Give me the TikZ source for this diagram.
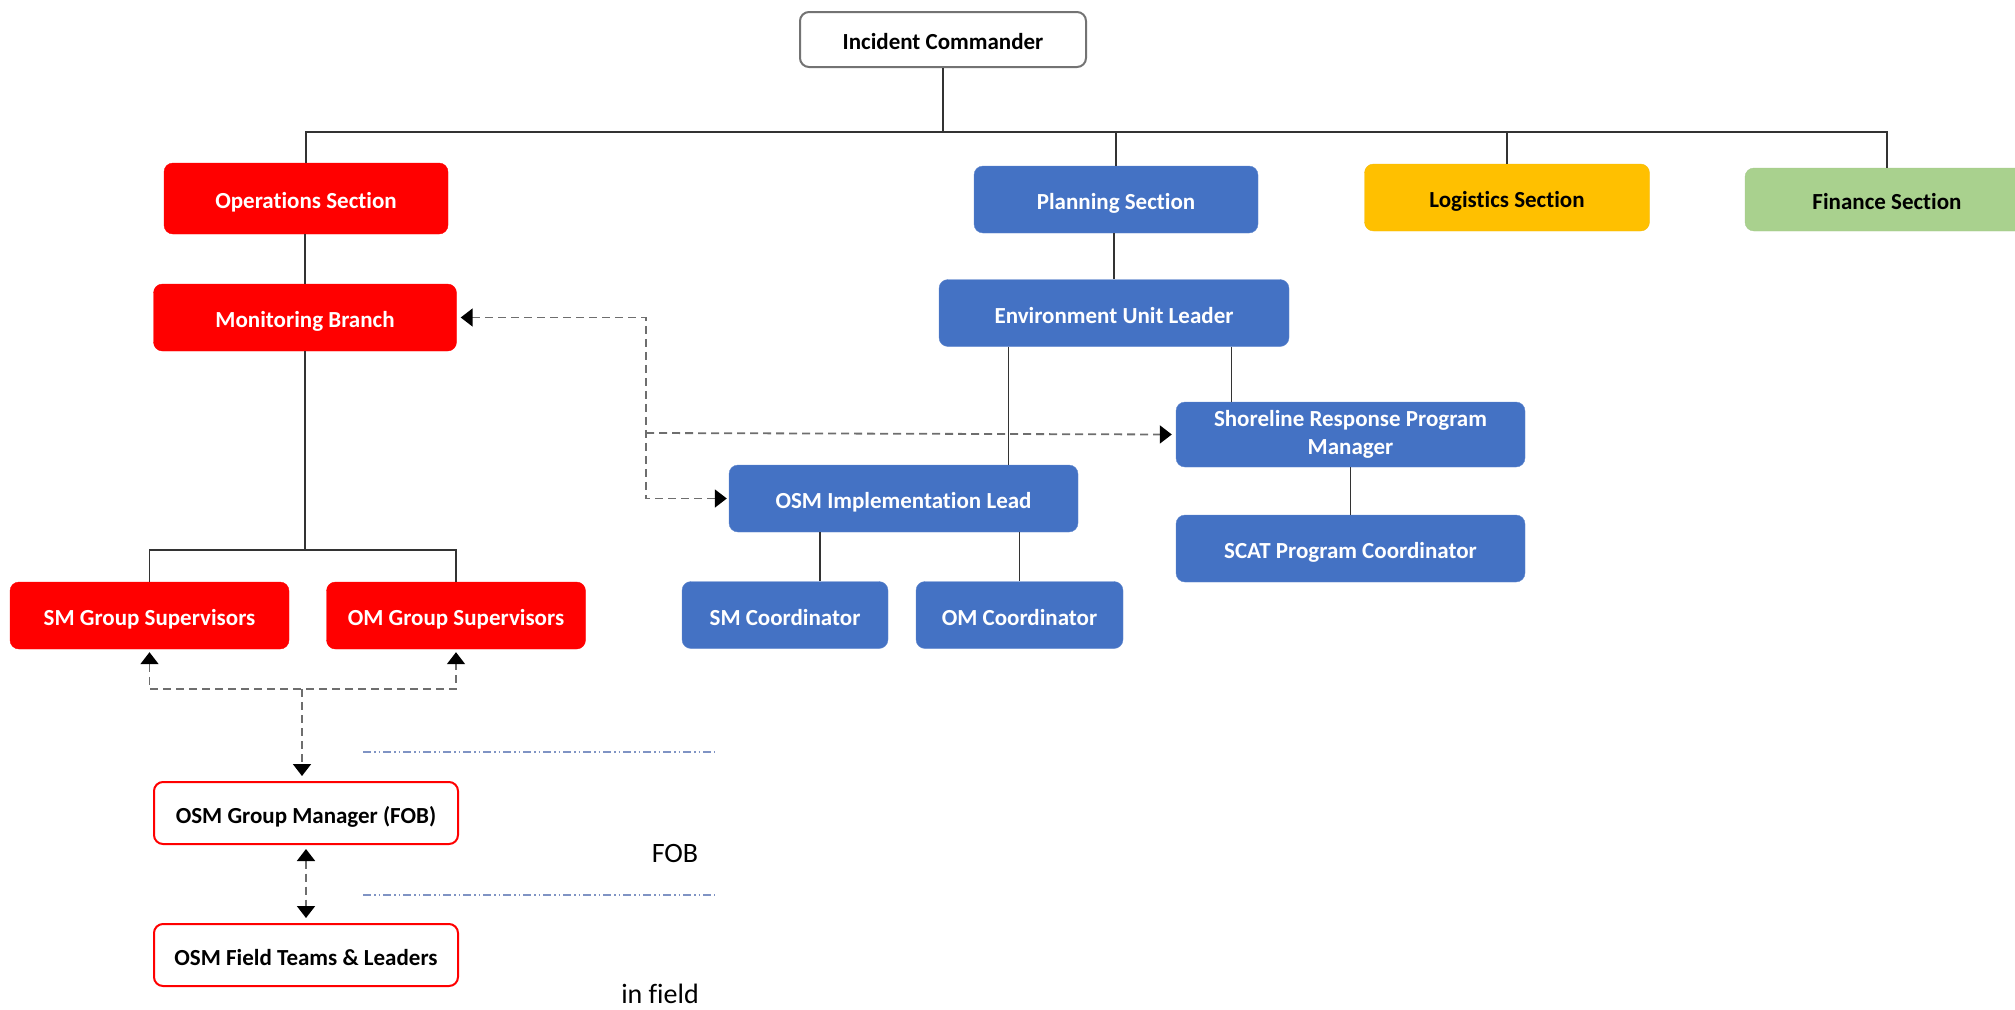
\documentclass[tikz,border=0pt]{standalone}
\usepackage{fontspec}
\setmainfont{Carlito}[Ligatures=NoCommon]
\usepackage{tikz}
\usetikzlibrary{arrows.meta}
\usetikzlibrary{calc}
\usetikzlibrary{positioning}

\definecolor{opsred}{HTML}{FF0000}
\definecolor{planblue}{HTML}{4472C4}
\definecolor{logyellow}{HTML}{FFC000}
\definecolor{fingreen}{HTML}{A9D18E}
\definecolor{linkgray}{HTML}{6E6E6E}
\definecolor{zoneblue}{HTML}{7F93C4}

\begin{document}
\begin{tikzpicture}[x=1pt,y=-1pt,
    >={Triangle[length=12pt,width=18pt,color=black]},
    box/.style={rounded corners=9pt,inner sep=0pt,minimum height=67pt,align=center,
      text height=21pt,text depth=1pt,
      font=\bfseries\fontsize{23}{28}\selectfont},
    redbox/.style={box,fill=opsred,draw=opsred,text=white},
    bluebox/.style={box,fill=planblue,draw=planblue!85!white,text=white},
    openbox/.style={box,fill=white,draw=opsred,line width=2pt,minimum height=62pt},
    tree/.style={draw=black!80,line width=1.3pt},
    link/.style={draw=linkgray,line width=1.8pt,dash pattern=on 8pt off 5pt},
    zone/.style={draw=zoneblue,line width=1.5pt,dash pattern=on 8pt off 3pt on 1.5pt off 3pt on 1.5pt off 3pt},
    zonelabel/.style={font=\fontsize{28}{32}\selectfont}]

  \useasboundingbox (0,0) rectangle (2015,1009);

  % top level
  \node [box,fill=white,draw=black!55,line width=2pt,minimum width=286pt,minimum height=55pt] (ic) at (943,39.5) {Incident Commander};

  \node [redbox,minimum width=284pt,minimum height=71pt] (ops_sec) at (306,198.5) {Operations Section};
  \node [bluebox,minimum width=284pt] (plan_sec) at (1116,199.5) {Planning Section};
  \node [box,fill=logyellow,draw=logyellow!90!gray,minimum width=285pt] (log_sec) at (1507,197.5) {Logistics Section};
  \node [box,fill=fingreen,draw=fingreen!90!gray,minimum width=284pt,minimum height=63pt] (fin_sec) at (1887,199.5) {Finance Section};

  \coordinate (bus) at (943,132);

  \path [tree]
    (ic.south) -- (bus)
    (ops_sec.north) |- (bus) -| (fin_sec.north)
    (plan_sec.north) -- (plan_sec.north |- bus)
    (log_sec.north) -- (log_sec.north |- bus);

  % operations side
  \node [redbox,minimum width=303pt] (mon_br) at (305,317.5) {Monitoring Branch};
  \node [redbox,minimum width=279pt] (sm_grp) at (149.5,615.5) {SM Group Supervisors};
  \node [redbox,minimum width=259pt] (om_grp) at (456,615.5) {OM Group Supervisors};
  \node [openbox,text=black,minimum width=304pt] (osm_mgr) at (306,813) {OSM Group Manager (FOB)};
  \node [openbox,text=black,minimum width=304pt] (osm_field) at (306,955) {OSM Field Teams \& Leaders};

  \coordinate (mon_split) at (305,550);

  \path [tree]
    (mon_br.north |- ops_sec.south) -- (mon_br.north)
    (mon_br.south) -- (mon_split)
    (sm_grp.north) |- (mon_split) -| (om_grp.north);

  % planning side
  \node [bluebox,minimum width=350pt] (env_unit) at (1114,313) {Environment Unit Leader};
  \node [bluebox,minimum width=349pt,minimum height=65pt,text height=,text depth=] (shore_mgr) at (1350.5,434.5) {Shoreline Response Program\\Manager};
  \node [bluebox,minimum width=349pt] (osm_impl) at (903.5,498.5) {OSM Implementation Lead};
  \node [bluebox,minimum width=349pt] (scat_coord) at (1350.5,548.5) {SCAT Program Coordinator};
  \node [bluebox,minimum width=206pt] (sm_coord) at (785,615) {SM Coordinator};
  \node [bluebox,minimum width=207pt] (om_coord) at (1019.5,615) {OM Coordinator};

  \path [tree]
    (env_unit.north |- plan_sec.south) -- (env_unit.north)
    ([xshift=70pt]env_unit.south west) -- ([xshift=70pt]env_unit.south west |- osm_impl.north)
    ([xshift=-58pt]env_unit.south east) -- ([xshift=-58pt]env_unit.south east |- shore_mgr.north)
    (shore_mgr.south) -- (scat_coord.north)
    ([xshift=35pt]sm_coord.north) -- ([xshift=35pt]sm_coord.north |- osm_impl.south)
    (om_coord.north) -- (om_coord.north |- osm_impl.south);

  % dashed links
  \coordinate (jog) at (646,433);
  \coordinate (grp_join) at (302,689);

  \path [link,<->,shorten <=4pt,shorten >=2pt] (mon_br.east) -| (jog) |- (osm_impl.west);
  \path [link,->,shorten >=4pt] (jog) -- (shore_mgr.west);
  \path [link,<->,shorten <=3pt,shorten >=3pt] (sm_grp.south) |- (grp_join) -| (om_grp.south);
  \path [link,->,shorten >=5pt] (grp_join) -- (grp_join |- osm_mgr.north);
  \path [link,<->,shorten <=4pt,shorten >=5pt] (osm_mgr.south) -- (osm_field.north);

  % zones
  \coordinate (fob_top_l) at (363,752);
  \coordinate (fob_top_r) at (715,752);
  \coordinate (fob_bot_l) at (363,895);
  \coordinate (fob_bot_r) at (715,895);
  \path [zone] (fob_top_l) -- (fob_top_r);
  \path [zone] (fob_bot_l) -- (fob_bot_r);

  \node [zonelabel] (fob_lab) at (675,853) {FOB};
  \node [zonelabel] (field_lab) at (660,994) {in field};
\end{tikzpicture}
\end{document}
